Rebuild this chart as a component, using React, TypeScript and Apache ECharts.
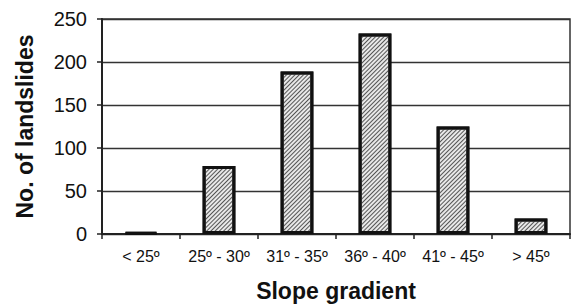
import React, { useEffect, useRef } from "react";
import * as echarts from "echarts";

const categories = ["< 25º", "25º - 30º", "31º - 35º", "36º - 40º", "41º - 45º", "> 45º"];
const landslides = [2, 79, 189, 233, 125, 18];
const yTicks = { min: 0, max: 250, interval: 50 };

export default function App() {
  const ref = useRef<HTMLDivElement>(null);
  useEffect(() => {
    const chart = echarts.init(ref.current!, null, { renderer: "svg" });
    chart.setOption({
      animation: false,
      backgroundColor: "#fff",
      grid: {
        left: 102,
        right: 4,
        top: 19,
        bottom: 70,
        show: true,
        borderColor: "#333",
        borderWidth: 1.5,
        containLabel: false,
        outerBoundsMode: "none",
      },
      xAxis: {
        type: "category",
        data: categories,
        name: "Slope gradient",
        nameLocation: "middle",
        nameGap: 45,
        nameTextStyle: { fontFamily: "Liberation Sans", fontWeight: "bold", fontSize: 23, color: "#111" },
        axisLine: { lineStyle: { color: "#222", width: 2 } },
        axisTick: { show: true, length: 5, lineStyle: { color: "#222", width: 1.5 } },
        axisLabel: { fontFamily: "Liberation Sans", fontSize: 16, color: "#111", margin: 14, interval: 0 },
      },
      yAxis: {
        type: "value",
        min: yTicks.min,
        max: yTicks.max,
        interval: yTicks.interval,
        name: "No. of landslides",
        nameLocation: "middle",
        nameGap: 66,
        nameTextStyle: { fontFamily: "Liberation Sans", fontWeight: "bold", fontSize: 23, color: "#111" },
        axisLine: { show: true, lineStyle: { color: "#222", width: 2 } },
        axisTick: { show: true, length: 5, lineStyle: { color: "#222", width: 1.5 } },
        axisLabel: { fontFamily: "Liberation Sans", fontSize: 20, color: "#111", margin: 15 },
        splitLine: { lineStyle: { color: "#333", width: 1.3 } },
      },
      series: [
        {
          type: "bar",
          data: landslides,
          barWidth: "42%",
          itemStyle: {
            color: "#e8e8e8",
            borderColor: "#111",
            borderWidth: 3,
            decal: {
              symbol: "rect",
              symbolSize: 1,
              color: "#555",
              dashArrayX: [1, 0],
              dashArrayY: [1, 2],
              rotation: -Math.PI / 4,
            },
          },
        },
      ],
    });
    return () => chart.dispose();
  }, []);
  return <div ref={ref} style={{ width: 574, height: 304, position: "absolute", left: 0, top: 0 }} />;
}
